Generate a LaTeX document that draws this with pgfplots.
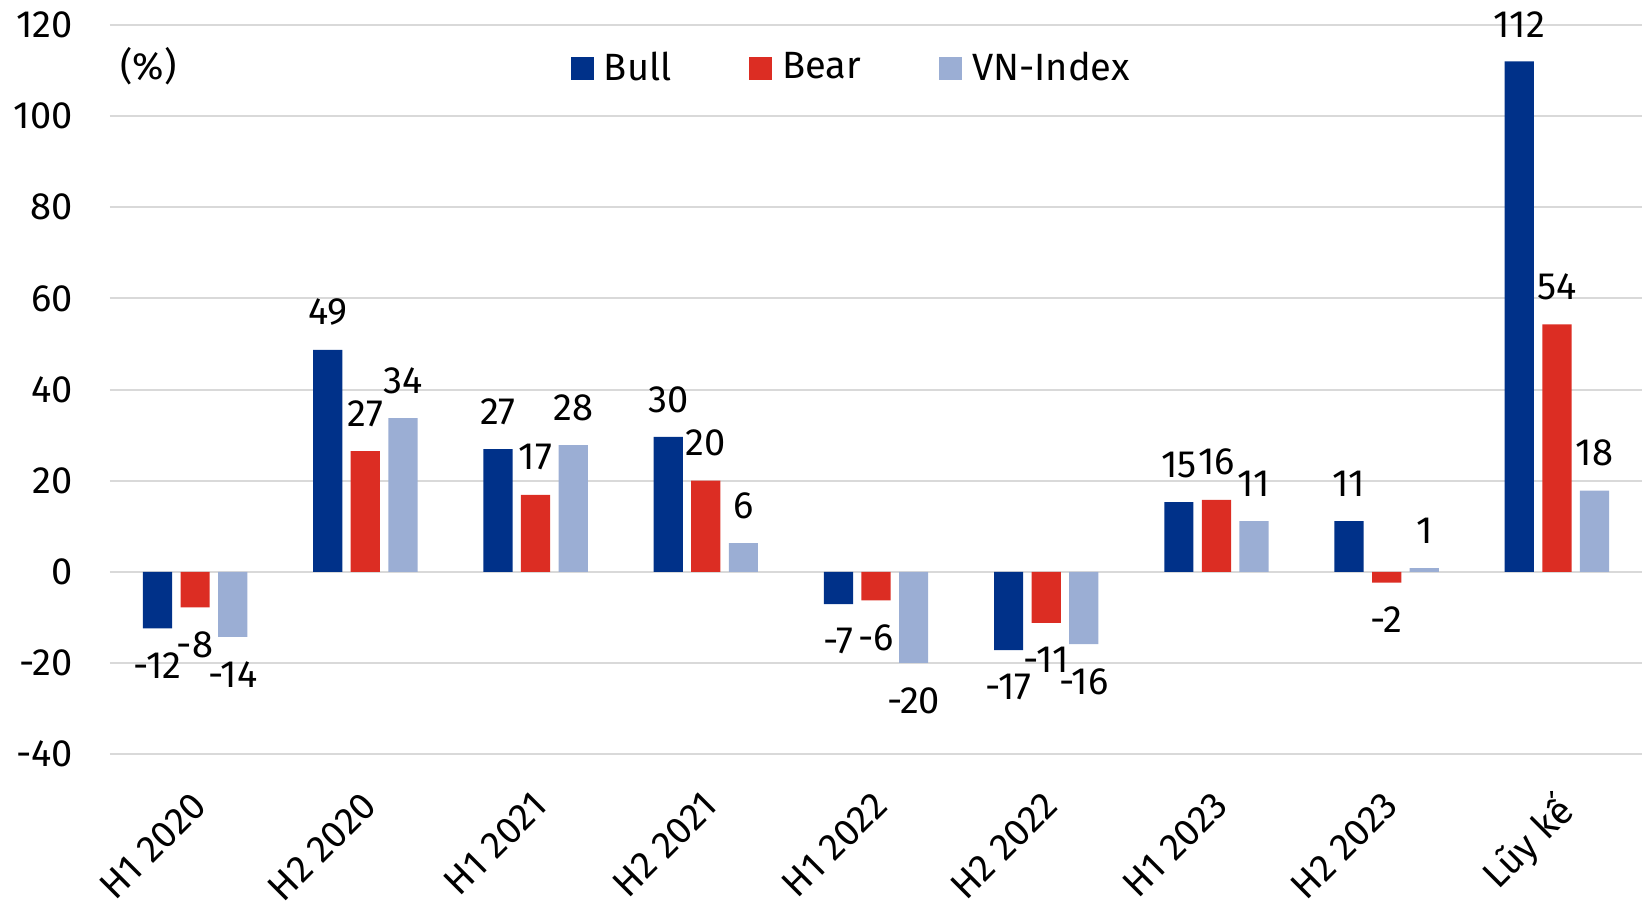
\documentclass[border=0pt]{standalone}
\usepackage{pgfplots}
\usepackage{pgfplotstable}
\pgfplotsset{compat=1.18}
\usepackage{fontspec}
\setmainfont{Fira Sans}
\definecolor{bull}{HTML}{003189}
\definecolor{bear}{HTML}{DC2D23}
\definecolor{vni}{HTML}{9BAED4}
\definecolor{gridc}{HTML}{D9D9D9}
\pgfplotstableread{
x y lab
0 -12.4 -12
1 48.7 49
2 26.9 27
3 29.6 30
4 -7.1 -7
5 -17.2 -17
6 15.3 15
7 11.1 11
8 112.0 112
}\bulltab
\pgfplotstableread{
x y lab
0 -7.8 -8
1 26.5 27
2 16.9 17
3 20.0 20
4 -6.3 -6
5 -11.2 -11
6 15.8 16
7 -2.4 -2
8 54.3 54
}\beartab
\pgfplotstableread{
x y lab
0 -14.3 -14
1 33.7 34
2 27.8 28
3 6.3 6
4 -20.0 -20
5 -15.9 -16
6 11.1 11
7 0.8 1
8 17.8 18
}\vnitab
\begin{document}
\fontsize{19pt}{23pt}\selectfont
\begin{tikzpicture}[font=\fontsize{19pt}{23pt}\selectfont]
\begin{axis}[
  at={(0,0)}, anchor=south west,
  scale only axis, width=766pt, height=364.5pt,
  ybar=4.2pt, bar width=14.6pt,
  xmin=-0.5, xmax=8.5, ymin=-40, ymax=120,
  xtick={0,...,8},
  xticklabels={H1 2020,H2 2020,H1 2021,H2 2021,H1 2022,H2 2022,H1 2023,H2 2023,Lũy kế},
  ytick={-40,-20,...,120},
  yticklabels={-40,-20,0,20,40,60,80,100,120},
  ymajorgrids, grid style={color=gridc, line width=1pt},
  axis line style={draw=none},
  major tick length=0pt,
  yticklabel style={anchor=east, inner sep=0pt, xshift=-18.5pt},
  xticklabel style={xshift=-2.5pt, yshift=-17.5pt, rotate=45, anchor=north east, inner sep=0pt},
  point meta=explicit,
  nodes near coords,
  nodes near coords align={vertical},
  /pgf/number format/assume math mode=true,
  /pgf/number format/fixed, /pgf/number format/precision=0,
  every node near coord/.append style={inner xsep=0pt, inner ysep=12pt, color=black},
  legend columns=3,
  legend style={at={(rel axis cs:0.3009,0.940)}, anchor=west, draw=none, fill=none,
    inner sep=0pt, outer sep=0pt,
    /tikz/every odd column/.append style={column sep=3pt},
    /tikz/every even column/.append style={column sep=37pt}},
  legend image code/.code={\fill[#1] (0pt,-5.75pt) rectangle (11.5pt,5.75pt);},
  clip=false,
]
\addplot[fill=bull, draw=none] table[x=x, y=y, meta=lab] {\bulltab};
\addplot[fill=bear, draw=none] table[x=x, y=y, meta=lab] {\beartab};
\addplot[fill=vni, draw=none] table[x=x, y=y, meta=lab] {\vnitab};
\legend{Bull,Bear,VN-Index}
\node[anchor=west, inner sep=0pt] at (rel axis cs:0.0065,0.9438) {(\%)};
\end{axis}
\pgfresetboundingbox
\useasboundingbox (-55pt,-76.5pt) rectangle (766pt,377pt);
\end{tikzpicture}
\end{document}
